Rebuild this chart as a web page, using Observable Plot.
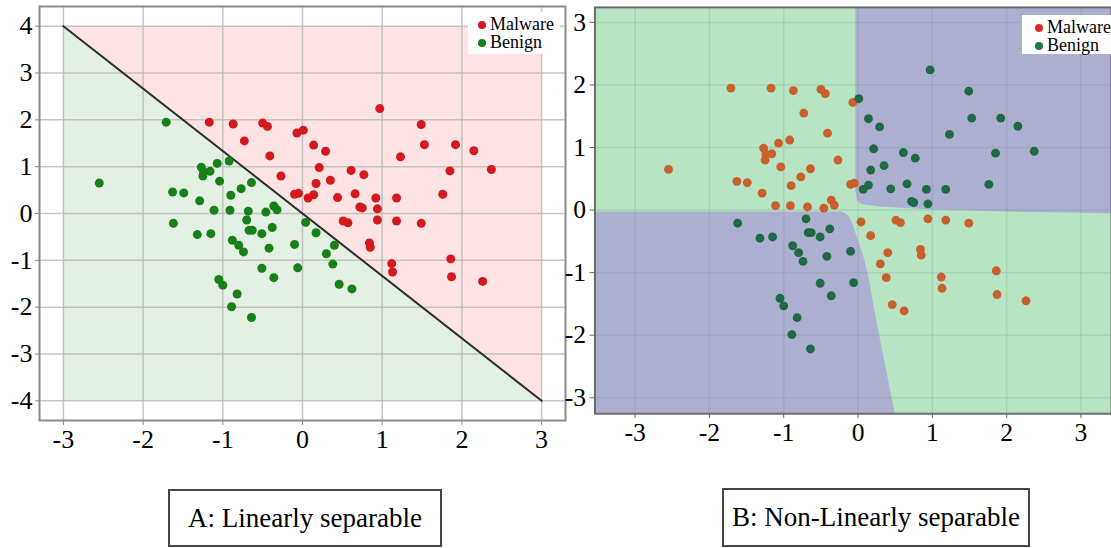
<!DOCTYPE html>
<html>
<head>
<meta charset="utf-8">
<script src="https://cdn.jsdelivr.net/npm/d3@7"></script>
<script src="https://cdn.jsdelivr.net/npm/@observablehq/plot@0.6"></script>
<style>
  html, body { margin: 0; padding: 0; background: #fff; }
  body { width: 1111px; height: 548px; overflow: hidden; position: relative;
         font-family: "Liberation Serif", "Times New Roman", serif; color: #000; }
  #panelA { position: absolute; left: 0; top: 0; }
  #panelB { position: absolute; left: 560px; top: 0; }
  .legend { position: absolute; background: #fff; font-size: 18px; line-height: 18px;
            padding: 3px 4px 3px 10px; box-sizing: border-box; white-space: nowrap; }
  .legend .row { position: relative; padding-left: 12px; }
  .legend .dot { position: absolute; left: 0; top: 6px; width: 8px; height: 8px; border-radius: 50%; }
  .caption { position: absolute; border: 2px solid #444; box-sizing: border-box; font-size: 27px;
             display: flex; align-items: center; justify-content: center; background: #fff; white-space: nowrap; }
</style>
</head>
<body>
<div id="panelA"></div>
<div id="panelB"></div>

<div class="legend" style="left:468px;top:12px;width:92px;height:42px;">
  <div class="row"><span class="dot" style="background:#d4191d"></span>Malware</div>
  <div class="row"><span class="dot" style="background:#188018"></span>Benign</div>
</div>
<div class="legend" style="left:1022px;top:15px;width:100px;height:39px;padding-left:13px;">
  <div class="row"><span class="dot" style="background:#e0282c"></span>Malware</div>
  <div class="row"><span class="dot" style="background:#1e7a40"></span>Benign</div>
</div>

<div class="caption" style="left:168px;top:489px;width:274px;height:58px;">A: Linearly separable</div>
<div class="caption" style="left:722px;top:488px;width:308px;height:59px;">B: Non-Linearly separable</div>

<script>
// ---------- data ----------
const malwareX = [-1.17,-0.87,-0.50,-0.44,-0.73,-0.07,0.01,-0.41,-0.27,-0.10,-0.05,0.97,1.49,1.53,1.92,2.15,1.23,1.85,2.37,1.76,0.14,0.29,0.21,0.61,0.77,0.35,0.17,0.07,0.14,0.44,0.66,0.92,1.18,0.72,0.75,0.94,0.94,1.18,1.49,0.51,0.57,0.84,0.85,1.12,1.13,1.86,1.87,2.26];
const malwareY = [1.95,1.91,1.93,1.86,1.55,1.72,1.78,1.23,0.80,0.41,0.43,2.24,1.90,1.47,1.47,1.34,1.21,0.91,0.94,0.41,1.46,1.33,0.98,0.92,0.83,0.71,0.64,0.33,0.40,0.34,0.42,0.33,0.33,0.14,0.12,0.10,-0.14,-0.16,-0.21,-0.16,-0.20,-0.63,-0.72,-1.07,-1.25,-0.97,-1.35,-1.45];
// class of each malware point in panel B (O = orange, G = green)
const malwareB = ["O","O","O","O","O","O","G","O","O","O","O","G","G","G","G","G","G","G","G","G","G","G","G","G","G","G","G","G","G","G","G","G","G","G","G","G","O","O","O","O","O","O","O","O","O","O","O","O"];

const benignX = [-2.55,-1.71,-1.27,-1.07,-0.92,-1.24,-1.16,-1.25,-1.04,-1.63,-1.49,-1.29,-0.90,-0.77,-0.64,-1.11,-0.91,-0.68,-0.46,-0.36,-0.32,-0.70,-0.67,-0.63,-0.51,-0.38,-1.62,-1.32,-1.15,-0.88,-0.80,-0.74,-0.42,-0.10,0.04,0.17,-0.51,-0.36,-0.06,-1.05,-1.00,-0.82,-0.89,-0.64,0.40,0.30,0.38,0.46,0.62];
const benignY = [0.65,1.95,0.99,1.07,1.12,0.89,0.90,0.80,0.69,0.46,0.44,0.27,0.39,0.53,0.66,0.07,0.07,0.05,0.03,0.16,0.08,-0.14,-0.36,-0.36,-0.43,-0.30,-0.21,-0.45,-0.43,-0.57,-0.68,-0.82,-0.74,-0.66,-0.19,-0.41,-1.17,-1.37,-1.16,-1.41,-1.53,-1.72,-1.99,-2.22,-0.68,-0.86,-1.08,-1.51,-1.61];
const benignB = ["O","O","O","O","O","O","O","O","O","O","O","O","O","O","O","O","O","O","O","O","O","G","G","G","G","G","G","G","G","G","G","G","G","G","O","O","G","G","G","G","G","G","G","G","O","O","O","O","O"];

// Panel A: linear decision boundary and its shaded extent
const boundaryX = [-3, 3];
const boundaryY = [4, -4];
const regionYA = [-4, 4];      // bottom / top of the shaded regions
const xTicksA = [-3, -2, -1, 0, 1, 2, 3];
const yTicksA = [-4, -3, -2, -1, 0, 1, 2, 3, 4];

// Panel B: decision region boundaries (purple regions)
const upperRightBX = [-0.03, -0.01, 0.05, 0.30, 1.00, 2.00, 3.41];
const upperRightBY = [0.30, 0.15, 0.09, 0.05, 0.00, -0.03, -0.06];
const lowerLeftBY = [-0.03, -0.08, -0.20, -0.37, -0.84, -1.63, -2.42, -3.255];
const lowerLeftBX = [-0.22, -0.14, -0.08, -0.03, 0.10, 0.23, 0.36, 0.50];
const xTicksB = [-3, -2, -1, 0, 1, 2, 3];
const yTicksB = [-3, -2, -1, 0, 1, 2, 3];

// ---------- tables ----------
const points = [
  ...malwareX.map((x, i) => ({x, y: malwareY[i], a: "Malware", b: malwareB[i]})),
  ...benignX.map((x, i) => ({x, y: benignY[i], a: "Benign", b: benignB[i]}))
];
const bandA = boundaryX.map((x, i) => ({x, line: boundaryY[i], bottom: regionYA[0], top: regionYA[1]}));

const xDomA = [-3.3, 3.3], yDomA = [-4.42, 4.42];
const xDomB = [-3.54, 3.41], yDomB = [-3.255, 3.24];
const upperRight = upperRightBX.map((x, i) => ({x, y: upperRightBY[i], top: yDomB[1]}));
const lowerLeft = lowerLeftBY.map((y, i) => ({y, x: lowerLeftBX[i], left: xDomB[0]}));

const fmt = d => String(d);
const serif = '"Liberation Serif", serif';
const baseStyle = {fontFamily: serif, fontSize: "26px", color: "#000", background: "transparent", overflow: "visible"};
const axisFont = {fontFamily: serif, fontSize: 26};

// ---------- panel A ----------
const chartA = Plot.plot({
  width: 570, height: 460,
  marginLeft: 39, marginRight: 5, marginTop: 6, marginBottom: 40,
  x: {domain: xDomA},
  y: {domain: yDomA},
  style: baseStyle,
  marks: [
    Plot.areaY(bandA, {x: "x", y1: "line", y2: "top", fill: "#fde3e3"}),
    Plot.areaY(bandA, {x: "x", y1: "bottom", y2: "line", fill: "#e3f0e3"}),
    Plot.gridX(xTicksA, {stroke: "#b8b8b8", strokeOpacity: 0.8, strokeWidth: 1.5}),
    Plot.gridY(yTicksA, {stroke: "#b8b8b8", strokeOpacity: 0.8, strokeWidth: 1.5}),
    Plot.line(bandA, {x: "x", y: "line", stroke: "#2b2b2b", strokeWidth: 2}),
    Plot.dot(points, {x: "x", y: "y", r: 4.5, fill: d => d.a === "Malware" ? "#d4191d" : "#188018"}),
    Plot.frame({stroke: "#8a8a8a", strokeWidth: 2}),
    Plot.axisX(xTicksA, {...axisFont, tickFormat: fmt, tickSize: 5, tickPadding: 4, stroke: "#888", fill: "#000", label: null}),
    Plot.axisY(yTicksA, {...axisFont, tickFormat: fmt, tickSize: 4, tickPadding: 3, stroke: "#888", fill: "#000", label: null})
  ]
});
document.getElementById("panelA").append(chartA);

// ---------- panel B ----------
const chartB = Plot.plot({
  width: 560, height: 460,
  marginLeft: 35, marginRight: 0, marginTop: 7, marginBottom: 40,
  x: {domain: xDomB},
  y: {domain: yDomB},
  style: baseStyle,
  marks: [
    Plot.frame({fill: "#b7e5c3", stroke: null}),
    Plot.areaY(upperRight, {x: "x", y1: "y", y2: "top", fill: "#adafd1"}),
    Plot.areaX(lowerLeft, {y: "y", x1: "left", x2: "x", fill: "#adafd1", curve: "monotone-y"}),
    Plot.gridX(xTicksB, {stroke: "#5f7f7f", strokeOpacity: 0.18, strokeWidth: 1.5}),
    Plot.gridY(yTicksB, {stroke: "#5f7f7f", strokeOpacity: 0.18, strokeWidth: 1.5}),
    Plot.dot(points, {x: "x", y: "y", r: 4.5, fill: d => d.b === "O" ? "#c8602d" : "#1f6a45"}),
    Plot.frame({stroke: "#6a6a6a", strokeWidth: 2}),
    Plot.axisX(xTicksB, {...axisFont, tickFormat: fmt, tickSize: 5, tickPadding: 4, stroke: "#666", fill: "#000", label: null}),
    Plot.axisY(yTicksB, {...axisFont, tickFormat: fmt, tickSize: 5, tickPadding: 4, stroke: "#666", fill: "#000", label: null})
  ]
});
document.getElementById("panelB").append(chartB);
</script>
</body>
</html>
